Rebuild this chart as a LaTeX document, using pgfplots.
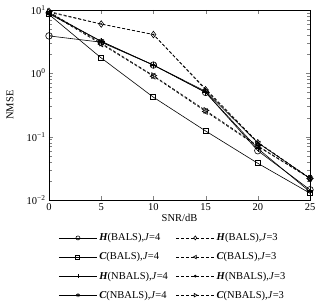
\documentclass[border=0pt]{standalone}
\usepackage{pgfplots}
\pgfplotsset{compat=1.18}
\usepackage{fontspec}
\setmainfont{Liberation Serif}
\begin{document}
\begin{tikzpicture}
\begin{axis}[
  width=261pt, height=190pt, scale only axis,
  xmin=0, xmax=25, ymin=0.01, ymax=10,
  ymode=log,
  xtick={0,5,10,15,20,25},
  ytick={0.01,0.1,1,10},
  yticklabels={10\textsuperscript{−2},10\textsuperscript{−1},10\textsuperscript{0},10\textsuperscript{1}},
  /pgf/number format/assume math mode=true,
  minor tick num=0,
  tick align=inside,
  xlabel={SNR/dB}, ylabel={NMSE},
  xlabel style={at={(axis description cs:0.5,-0.095)}, anchor=center},
  ylabel style={at={(axis description cs:-0.15,0.5)}, anchor=center},
  tick label style={font=\fontsize{10.5}{12}\selectfont},
  label style={font=\fontsize{10.5}{12}\selectfont},
  clip=false,
  every axis plot/.append style={black, line width=0.6pt},
  legend columns=2,
  legend style={at={(0.475,-0.165)}, anchor=north, draw=none,
    font=\fontsize{10.5}{12}\selectfont, inner sep=0pt,
    /tikz/every even column/.append style={column sep=6pt},
    row sep=6.3pt},
  legend cell align=left,
  legend image code/.code={%
    \draw[mark repeat=2,mark phase=2,#1] plot coordinates {(0pt,0pt) (19pt,0pt) (38pt,0pt)};},
  legend image post style={mark size=2pt},
]
\addplot[solid, mark=o, mark size=3.3pt] coordinates {(0,3.9) (5,3.1) (10,1.35) (15,0.5) (20,0.06) (25,0.0145)};
\addlegendentry{\textbf{\textit{H}}(BALS),\textit{J}=4}
\addplot[densely dashed, mark=diamond, mark size=3.3pt, mark options={solid}] coordinates {(0,9.5) (5,6.0) (10,4.1) (15,0.55) (20,0.08) (25,0.022)};
\addlegendentry{\textbf{\textit{H}}(BALS),\textit{J}=3}
\addplot[solid, mark=square, mark size=2.5pt, mark options={line width=1pt}] coordinates {(0,8.5) (5,1.75) (10,0.42) (15,0.123) (20,0.038) (25,0.0128)};
\addlegendentry{\textbf{\textit{C}}(BALS),\textit{J}=4}
\addplot[densely dashed, mark=triangle, mark size=3.3pt, mark options={solid, rotate=90}] coordinates {(0,9) (5,2.9) (10,0.9) (15,0.25) (20,0.07) (25,0.022)};
\addlegendentry{\textbf{\textit{C}}(BALS),\textit{J}=3}
\addplot[solid, mark=+, mark size=3.3pt] coordinates {(0,9) (5,3.2) (10,1.35) (15,0.5) (20,0.065) (25,0.0135)};
\addlegendentry{\textbf{\textit{H}}(NBALS),\textit{J}=4}
\addplot[densely dashed, mark=*, mark size=1pt, mark options={solid, scale=0.5}] coordinates {(0,9.2) (5,6.0) (10,4.1) (15,0.57) (20,0.082) (25,0.022)};
\addlegendentry{\textbf{\textit{H}}(NBALS),\textit{J}=3}
\addplot[solid, mark=asterisk, mark size=3.3pt] coordinates {(0,8.7) (5,3.2) (10,1.35) (15,0.52) (20,0.08) (25,0.022)};
\addlegendentry{\textbf{\textit{C}}(NBALS),\textit{J}=4}
\addplot[densely dashed, mark=triangle, mark size=3.3pt, mark options={solid, rotate=-90}] coordinates {(0,9.4) (5,3.0) (10,0.92) (15,0.26) (20,0.072) (25,0.022)};
\addlegendentry{\textbf{\textit{C}}(NBALS),\textit{J}=3}
\end{axis}
\path (current axis.south east) ++(13pt,-107pt) coordinate (r);
\path (current axis.north west) ++(-49pt,10pt) coordinate (l);
\path (r) rectangle (l);
\end{tikzpicture}
\end{document}
